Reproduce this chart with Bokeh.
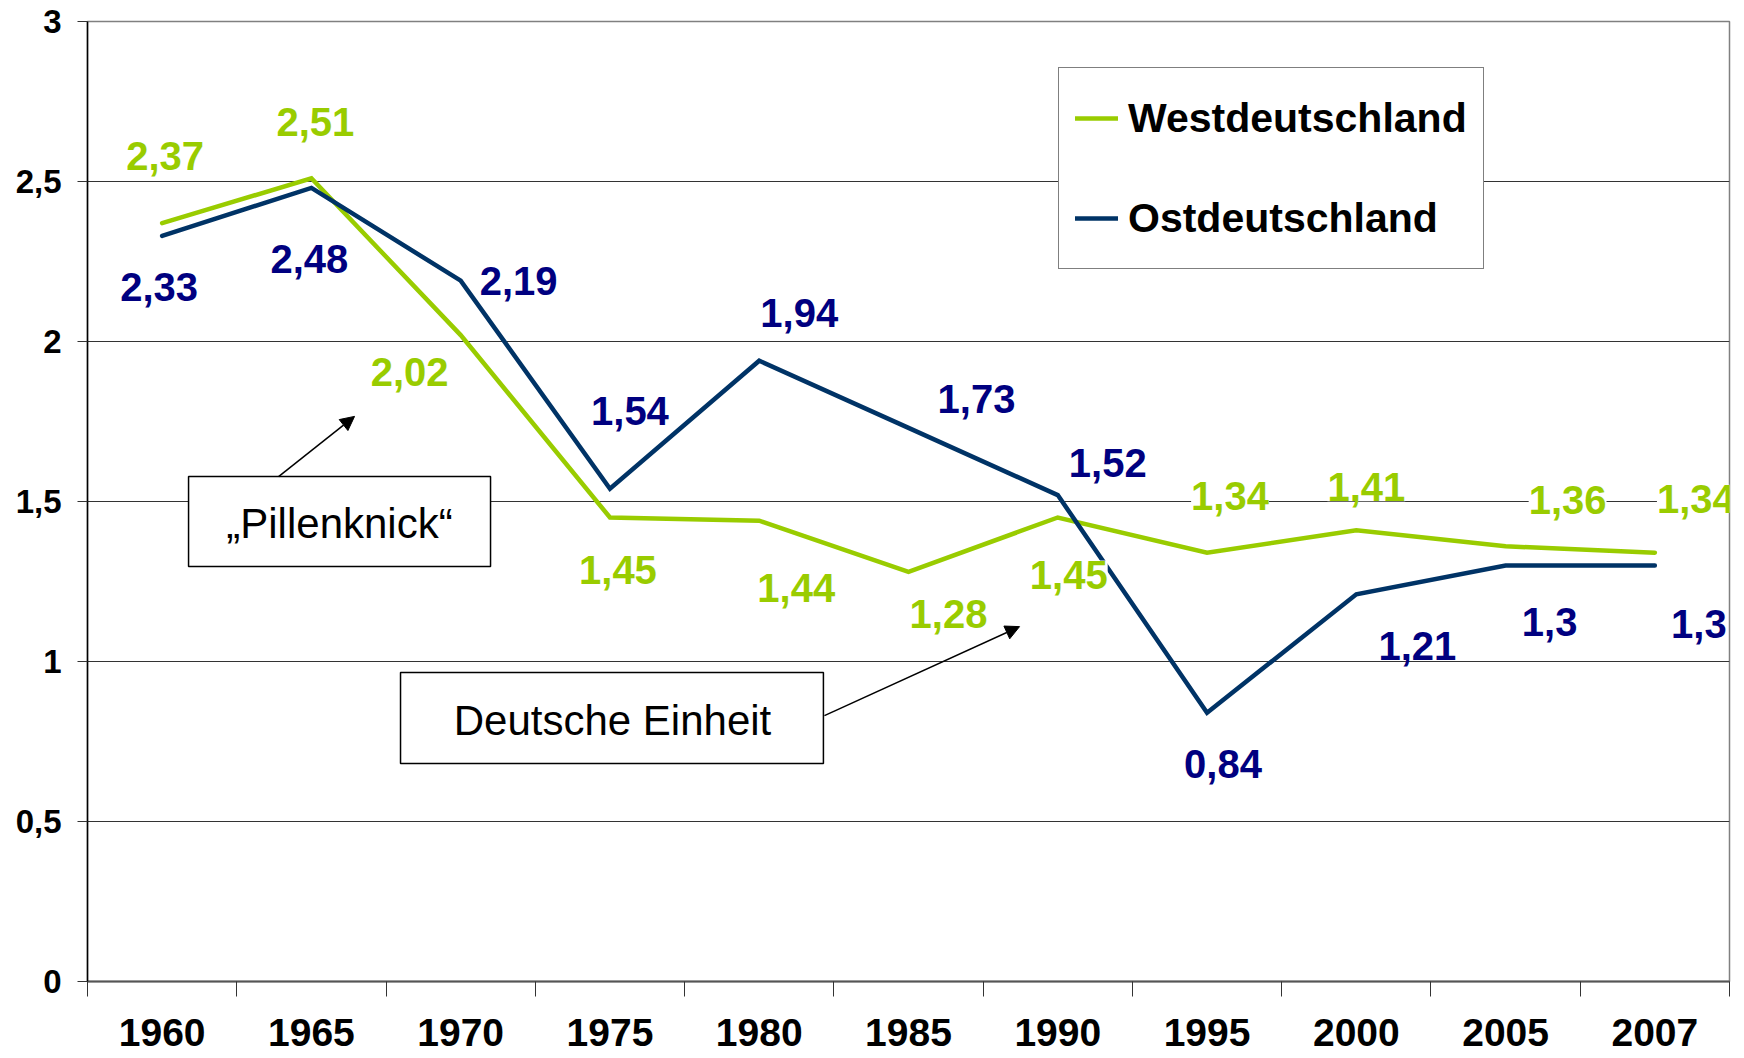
from bokeh.plotting import figure
from bokeh.models import (ColumnDataSource, LabelSet, Label, Legend, LegendItem, Range1d,
                          FixedTicker, CustomJSTickFormatter, BoxAnnotation, Arrow, NormalHead)
from bokeh.core.properties import value
from bokeh.embed import file_html
from bokeh.resources import INLINE

# ---- data ----
years = ["1960", "1965", "1970", "1975", "1980", "1985", "1990", "1995", "2000", "2005", "2007"]
west = [2.37, 2.51, 2.02, 1.45, 1.44, 1.28, 1.45, 1.34, 1.41, 1.36, 1.34]
east = [2.33, 2.48, 2.19, 1.54, 1.94, 1.73, 1.52, 0.84, 1.21, 1.3, 1.3]
y_ticks = [0, 0.5, 1, 1.5, 2, 2.5, 3]

# ---- label placement (screen px, right / down) ----
west_dx = [3, 4, -51, 8, 37, 40, 11, 23, 10, 62, 41]
west_dy = [-67, -56, 37, 52, 67, 42, 57, -57, -43, -46, -54]
east_dx = [-3, -2, 58, 20, 40, 68, 50, 16, 61, 44, 44]
east_dy = [51, 71, 0, -78, -48, -29, -32, 51, 52, 56, 58]

FONT = "Liberation Sans"
GREEN = "#99CC00"
NAVY_LINE = "#003366"
NAVY_TEXT = "#000080"

xs = list(range(len(years)))

def fmt(v):
    return str(v).replace(".", ",")

src_w = ColumnDataSource(dict(x=xs, y=west, t=[fmt(v) for v in west],
                              dx=west_dx, dy=[-d for d in west_dy]))
src_e = ColumnDataSource(dict(x=xs, y=east, t=[fmt(v) for v in east],
                              dx=east_dx, dy=[-d for d in east_dy]))

p = figure(width=1744, height=1058, output_backend="svg", toolbar_location=None,
           x_range=Range1d(-0.5, len(years) - 0.5), y_range=Range1d(0, 3),
           min_border_left=87, min_border_right=15, min_border_top=21, min_border_bottom=77)
p.background_fill_color = "white"
p.border_fill_color = "white"
p.outline_line_color = "#808080"
p.outline_line_width = 1.5

lw = p.line("x", "y", source=src_w, line_color=GREEN, line_width=4.5, line_join="miter", line_cap="round")
le = p.line("x", "y", source=src_e, line_color=NAVY_LINE, line_width=4.5, line_join="miter", line_cap="round")

# axes
p.xgrid.visible = False
xa = p.xaxis[0]
xa.ticker = FixedTicker(ticks=xs, minor_ticks=[i - 0.5 for i in range(len(years) + 1)])
xa.major_label_overrides = {i: y for i, y in enumerate(years)}
xa.major_tick_out = 0
xa.major_tick_in = 0
xa.minor_tick_out = 15
xa.minor_tick_in = 0
xa.minor_tick_line_color = "#333333"
xa.minor_tick_line_width = 1
xa.axis_line_color = "#555555"
xa.axis_line_width = 2
xa.major_label_standoff = 22
xa.major_label_text_font = FONT
xa.major_label_text_font_style = "bold"
xa.major_label_text_font_size = "39px"
xa.major_label_text_color = "black"

ya = p.yaxis[0]
ya.ticker = FixedTicker(ticks=y_ticks)
ya.formatter = CustomJSTickFormatter(code="return tick.toString().replace('.', ',');")
ya.major_tick_out = 10
ya.major_tick_in = 0
ya.minor_tick_out = 0
ya.minor_tick_in = 0
ya.major_tick_line_color = "#333333"
ya.axis_line_color = "black"
ya.axis_line_width = 1.5
ya.major_label_standoff = 16
ya.major_label_text_font = FONT
ya.major_label_text_font_style = "bold"
ya.major_label_text_font_size = "33px"
ya.major_label_text_color = "black"

p.ygrid.ticker = FixedTicker(ticks=y_ticks)
p.ygrid.grid_line_color = "#333333"
p.ygrid.grid_line_width = 1

# annotation boxes and arrows
box1 = BoxAnnotation(left=0.177, right=2.20, bottom=1.297, top=1.578,
                     fill_color="white", fill_alpha=1, line_color="black", line_alpha=1, line_width=1.5)
box2 = BoxAnnotation(left=1.597, right=4.43, bottom=0.681, top=0.966,
                     fill_color="white", fill_alpha=1, line_color="black", line_alpha=1, line_width=1.5)
p.add_layout(box1)
p.add_layout(box2)
p.add_layout(Label(x=1.188, y=1.431, text="\u201ePillenknick\u201c", text_align="center",
                   text_baseline="middle", text_font=FONT, text_font_size="42px", text_color="black"))
p.add_layout(Label(x=3.017, y=0.816, text="Deutsche Einheit", text_align="center",
                   text_baseline="middle", text_font=FONT, text_font_size="42px", text_color="black"))
p.add_layout(Arrow(x_start=0.78, y_start=1.578, x_end=1.289, y_end=1.766, line_width=1.5,
                   line_color="black", end=NormalHead(size=14, fill_color="black", line_color="black")))
p.add_layout(Arrow(x_start=4.437, y_start=0.831, x_end=5.744, y_end=1.109, line_width=1.5,
                   line_color="black", end=NormalHead(size=14, fill_color="black", line_color="black")))

# data labels
for src, col in ((src_w, GREEN), (src_e, NAVY_TEXT)):
    p.add_layout(LabelSet(x="x", y="y", text="t", source=src, x_offset="dx", y_offset="dy",
                          text_align="center", text_baseline="middle", text_font=value(FONT),
                          text_font_style="bold", text_font_size="40px", text_color=col,
                          background_fill_color="white", background_fill_alpha=1))

legend = Legend(items=[LegendItem(label="Westdeutschland", renderers=[lw]),
                       LegendItem(label="Ostdeutschland", renderers=[le])],
                location=(971, 712), margin=0, padding=16, spacing=32,
                glyph_width=43, glyph_height=68, label_standoff=10,
                label_text_font=FONT, label_text_font_style="bold", label_text_font_size="41px",
                label_text_color="black", border_line_color="black", border_line_width=1.5,
                background_fill_color="white", background_fill_alpha=1)
p.add_layout(legend)

open("out.html", "w").write(file_html(p, INLINE))
